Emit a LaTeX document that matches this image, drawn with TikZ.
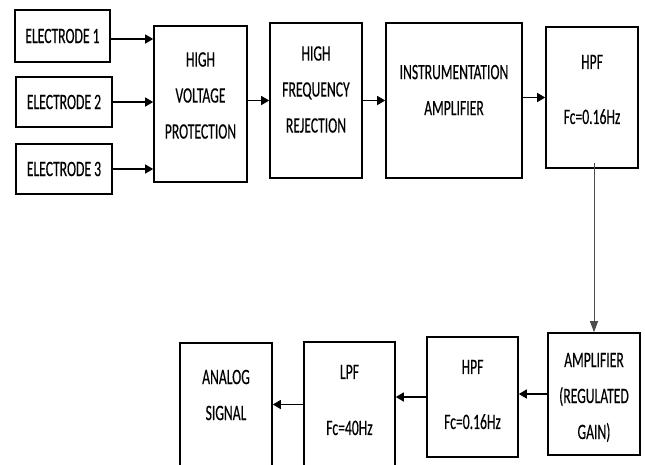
\documentclass[tikz,border=0pt]{standalone}
\usepackage{fontspec}
\usetikzlibrary{arrows.meta,calc}
\newfontfamily\blkfont{Carlito}[FakeStretch=0.62,FakeBold=0.3]
\begin{document}
\begin{tikzpicture}[x=1pt,y=-1pt,
  blk/.style={draw=black,line width=1.6pt,inner sep=0pt,
    font=\blkfont\fontsize{22}{36}\selectfont,align=center},
  txt/.style={inner sep=0pt,font=\blkfont\fontsize{22}{36}\selectfont,align=center},
  arr/.style={line width=1.3pt,-{Triangle[length=8pt,width=9pt]}},
  varr/.style={line width=0.8pt,draw=black!70,-{Triangle[length=11pt,width=8pt]}}]
\useasboundingbox[fill=white] (0,0) rectangle (645,464);
\clip (0,0) rectangle (645,464);
% upper row
\node[blk,minimum width=95pt,minimum height=52pt] (E1) at (62.5,36) {ELECTRODE 1};
\node[blk,minimum width=96pt,minimum height=50pt] (E2) at (64,102) {ELECTRODE 2};
\node[blk,minimum width=96pt,minimum height=50pt] (E3) at (64,169) {ELECTRODE 3};
\node[blk,minimum width=93pt,minimum height=156pt] (HVP) at (200.5,104) {};
\node[blk,minimum width=92pt,minimum height=155pt] (HFR) at (316,100.5) {};
\node[blk,minimum width=136pt,minimum height=155pt] (IA) at (454,100.5) {};
\node[blk,minimum width=92pt,minimum height=141pt] (HPF) at (592,97.5) {};
% lower row
\node[blk,minimum width=92pt,minimum height=122pt] (AMP) at (594,394) {};
\node[blk,minimum width=91pt,minimum height=120pt] (HPFB) at (472.5,397) {};
\node[blk,minimum width=91pt,minimum height=133pt] (LPF) at (349.5,408.5) {};
\node[blk,minimum width=92pt,minimum height=132pt] (ANA) at (226,409) {};
% texts
\node[txt,yshift=8.5pt] (HVPt) at (HVP) {HIGH\\VOLTAGE\\PROTECTION};
\node[txt,yshift=11pt] (HFRt) at (HFR) {HIGH\\FREQUENCY\\REJECTION};
\node[txt,yshift=10.5pt] (IAt) at (IA) {INSTRUMENTATION\\AMPLIFIER};
\node[txt,yshift=8pt] (HPFt) at (HPF) {HPF\\[19pt]Fc=0.16Hz};
\node[txt,yshift=-3.5pt] (AMPt) at (AMP) {AMPLIFIER\\(REGULATED\\GAIN)};
\node[txt,yshift=2.5pt] (HPFBt) at (HPFB) {HPF\\[19pt]Fc=0.16Hz};
\node[txt,yshift=8.5pt] (LPFt) at (LPF) {LPF\\[20pt]Fc=40Hz};
\node[txt,yshift=14pt] (ANAt) at (ANA) {ANALOG\\SIGNAL};
% connectors
\draw[arr] ([yshift=-3pt]E1.east) -- ([yshift=-3pt]E1.east -| HVP.west);
\draw[arr] (E2.east) -- (E2.east -| HVP.west);
\draw[arr] (E3.east) -- (E3.east -| HVP.west);
\draw[arr] (HVP.east |- HFR) -- (HFR.west);
\draw[arr] (HFR.east) -- (IA.west);
\draw[arr] (IA.east |- HPF) -- (HPF.west);
\draw[varr] ([yshift=6pt]HPF.south -| AMP.north) -- (AMP.north);
\draw[arr] (AMP.west) -- (AMP.west -| HPFB.east);
\draw[arr] (HPFB.west) -- (HPFB.west -| LPF.east);
\draw[arr] ([yshift=4pt]LPF.west) -- ([yshift=4pt]LPF.west -| ANA.east);
\end{tikzpicture}
\end{document}
